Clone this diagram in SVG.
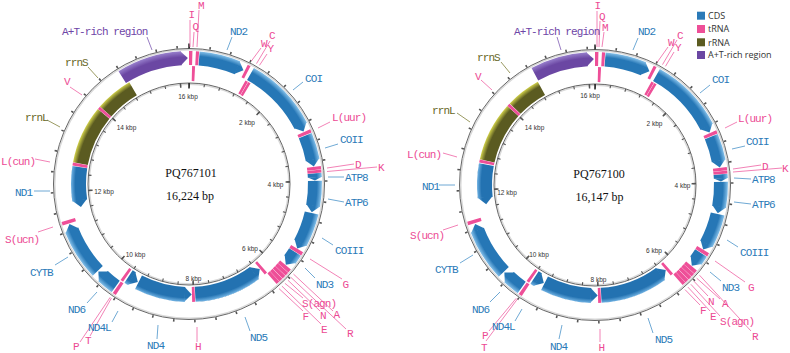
<svg xmlns="http://www.w3.org/2000/svg" xmlns:xlink="http://www.w3.org/1999/xlink" width="790" height="353" viewBox="0 0 790 353">
<style>
.lab{font-family:"Liberation Mono","DejaVu Sans Mono",monospace;font-size:11px;letter-spacing:-0.9px}
.b{fill:#2a7ab8}.k{fill:#ec4a94}.o{fill:#67671f}.u{fill:#6e45a6}
.ln{fill:none;stroke-width:0.8}
.lb{stroke:#4a93c9}.lk{stroke:#ef62a3}.lo{stroke:#80803a}.lu{stroke:#7d5bb3}
.P{fill:none;stroke-width:14}
.M{fill:none;stroke-width:15}
.cds{stroke:url(#gC)}.cdsF{fill:url(#gC)}
.rr{stroke:url(#gR)}
.at{stroke:url(#gA)}.atF{fill:url(#gA)}
.t{stroke:#ee4f98}
.tk{fill:none;stroke:#555}
.ring{fill:none;stroke:#666;stroke-width:1}
.sh{fill:none;stroke:#d9d9d9;stroke-width:1.4}
.kb{font-family:"Liberation Sans",Arial,sans-serif;font-size:6.5px;fill:#333;text-anchor:middle}
.ctr{font-family:"Liberation Serif","Times New Roman",serif;font-size:12px;fill:#111;text-anchor:middle}
.leg{font-family:"Open Sans","Liberation Sans",sans-serif;font-size:9px;fill:#333}
</style>
<defs>
<radialGradient id="gC" gradientUnits="userSpaceOnUse" cx="0" cy="0" r="133">
<stop offset="0" stop-color="#2372b1"/><stop offset="0.855" stop-color="#2372b1"/><stop offset="0.887" stop-color="#6fb1e2"/><stop offset="0.889" stop-color="#2677b6"/><stop offset="0.962" stop-color="#2677b6"/><stop offset="1" stop-color="#86c1ea"/>
</radialGradient>
<radialGradient id="gR" gradientUnits="userSpaceOnUse" cx="0" cy="0" r="133">
<stop offset="0" stop-color="#5b5b21"/><stop offset="0.85" stop-color="#5b5b21"/><stop offset="0.887" stop-color="#cfcf4a"/><stop offset="1" stop-color="#cfcf4a"/>
</radialGradient>
<radialGradient id="gA" gradientUnits="userSpaceOnUse" cx="0" cy="0" r="133">
<stop offset="0" stop-color="#6b47a3"/><stop offset="0.955" stop-color="#6b47a3"/><stop offset="1" stop-color="#9880cc"/>
</radialGradient>
<polygon id="tp" points="-7.66,-132.78 0,-126 -6.85,-118.8"/>
<polygon id="tps" points="-3.48,-132.95 0,-126 -3.12,-118.96"/>
<polygon id="tm" points="7.82,-117.74 0,-110.5 6.83,-102.77"/>
</defs>
<rect width="790" height="353" fill="#fff"/>

<!-- ================= LEFT MAP ================= -->
<g id="map-PQ767101" transform="translate(189,184)">
<circle class="sh" r="134.2"/>
<circle class="ring" r="135.5"/>
<circle class="tk" r="137.2" stroke-width="2.6" pathLength="16224" stroke-dasharray="30 370" stroke-dashoffset="15" transform="rotate(-90)"/>
<circle class="sh" r="99.8"/>
<circle class="ring" r="101" stroke="#555"/>
<circle class="tk" r="99.4" stroke-width="3" pathLength="16224" stroke-dasharray="28 372" stroke-dashoffset="14" transform="rotate(-90)"/>
<circle class="tk" r="98.8" stroke-width="4.4" pathLength="16224" stroke-dasharray="40 1960" stroke-dashoffset="20" transform="rotate(-90)"/>
<line x1="0" y1="-95.5" x2="0" y2="-101" stroke="#222" stroke-width="1.5"/>
<line x1="0" y1="-135.5" x2="0" y2="-140.5" stroke="#222" stroke-width="1.5"/>

<g id="L-ND2"><circle class="P cds" r="126" pathLength="360" stroke-dasharray="18 360" transform="rotate(-85.4)"/><use href="#tp" class="cdsF" transform="rotate(25.6)"/></g>
<g id="L-COI"><circle class="P cds" r="126" pathLength="360" stroke-dasharray="33.2 360" transform="rotate(-60.8)"/><use href="#tp" class="cdsF" transform="rotate(65.4)"/></g>
<g id="L-COII"><circle class="P cds" r="126" pathLength="360" stroke-dasharray="11.6 360" transform="rotate(-22.6)"/><use href="#tp" class="cdsF" transform="rotate(82)"/></g>
<g id="L-ATP8"><circle class="P cds" r="126" pathLength="360" stroke-dasharray="1.8 360" transform="rotate(-4.8)"/><use href="#tps" class="cdsF" transform="rotate(88.4)"/></g>
<g id="L-ATP6"><circle class="P cds" r="126" pathLength="360" stroke-dasharray="11.4 360" transform="rotate(-1.4)"/><use href="#tp" class="cdsF" transform="rotate(103)"/></g>
<g id="L-COIII"><circle class="P cds" r="126" pathLength="360" stroke-dasharray="14.5 360" transform="rotate(13.3)"/><use href="#tp" class="cdsF" transform="rotate(120.8)"/></g>
<g id="L-ND3"><circle class="P cds" r="126" pathLength="360" stroke-dasharray="4.1 360" transform="rotate(32.7)"/><use href="#tp" class="cdsF" transform="rotate(129.8)"/></g>
<g id="L-ND6"><circle class="P cds" r="126" pathLength="360" stroke-dasharray="7.4 360" transform="rotate(125.6)"/><use href="#tp" class="cdsF" transform="rotate(226)"/></g>
<g id="L-CYTB"><circle class="P cds" r="126" pathLength="360" stroke-dasharray="22.1 360" transform="rotate(136.4)"/><use href="#tp" class="cdsF" transform="rotate(251.5)"/></g>
<g id="L-ATrich"><circle class="P at" r="126" pathLength="360" stroke-dasharray="28.5 360" transform="rotate(238)"/><use href="#tp" class="atF" transform="rotate(359.5)"/></g>
<g id="L-ND5"><circle class="M cds" r="110.5" pathLength="360" stroke-dasharray="33.1 360" transform="rotate(53.7)"/><use href="#tm" class="cdsF" transform="rotate(140.2)"/></g>
<g id="L-ND4"><circle class="M cds" r="110.5" pathLength="360" stroke-dasharray="25.1 360" transform="rotate(92.1)"/><use href="#tm" class="cdsF" transform="rotate(178.6)"/></g>
<g id="L-ND4L"><circle class="M cds" r="110.5" pathLength="360" stroke-dasharray="2.1 360" transform="rotate(121.1)"/><use href="#tm" class="cdsF" transform="rotate(207.6)"/></g>
<g id="L-ND1"><circle class="M cds" r="110.5" pathLength="360" stroke-dasharray="17.3 360" transform="rotate(171.5)"/><use href="#tm" class="cdsF" transform="rotate(258)"/></g>
<g id="L-rrnL"><circle class="M rr" r="110.5" pathLength="360" stroke-dasharray="28.8 360" transform="rotate(190.6)"/></g>
<g id="L-rrnS"><circle class="M rr" r="110.5" pathLength="360" stroke-dasharray="18.6 360" transform="rotate(221)"/></g>
<g id="L-tRNAs">
<circle id="L-trnI" class="P t" r="126" pathLength="360" stroke-dasharray="1.5 360" transform="rotate(-90)"/>
<circle id="L-trnM" class="P t" r="126" pathLength="360" stroke-dasharray="1.4 360" transform="rotate(-87)"/>
<circle id="L-trnW" class="P t" r="126" pathLength="360" stroke-dasharray="1.4 360" transform="rotate(-63.8)"/>
<circle id="L-trnLuur" class="P t" r="126" pathLength="360" stroke-dasharray="1.5 360" transform="rotate(-24.3)"/>
<circle id="L-trnK" class="P t" r="126" pathLength="360" stroke-dasharray="1.4 360" transform="rotate(-7.8)"/>
<circle id="L-trnD" class="P t" r="126" pathLength="360" stroke-dasharray="1.4 360" transform="rotate(-6.3)"/>
<circle id="L-trnG" class="P t" r="126" pathLength="360" stroke-dasharray="1.6 360" transform="rotate(30.9)"/>
<circle id="L-trnA" class="P t" r="126" pathLength="360" stroke-dasharray="1.7 360" transform="rotate(40)"/>
<circle id="L-trnR" class="P t" r="126" pathLength="360" stroke-dasharray="1.7 360" transform="rotate(41.8)"/>
<circle id="L-trnN" class="P t" r="126" pathLength="360" stroke-dasharray="1.7 360" transform="rotate(43.6)"/>
<circle id="L-trnSagn" class="P t" r="126" pathLength="360" stroke-dasharray="1.7 360" transform="rotate(45.4)"/>
<circle id="L-trnE" class="P t" r="126" pathLength="360" stroke-dasharray="1.6 360" transform="rotate(47.2)"/>
<circle id="L-trnT" class="P t" r="126" pathLength="360" stroke-dasharray="1.6 360" transform="rotate(123.4)"/>
<circle id="L-trnSucn" class="P t" r="126" pathLength="360" stroke-dasharray="1.6 360" transform="rotate(161.8)"/>
<circle id="L-trnQ" class="M t" r="110.5" pathLength="360" stroke-dasharray="1.5 360" transform="rotate(-88.5)"/>
<circle id="L-trnC" class="M t" r="110.5" pathLength="360" stroke-dasharray="1.4 360" transform="rotate(-61.4)"/>
<circle id="L-trnY" class="M t" r="110.5" pathLength="360" stroke-dasharray="1.4 360" transform="rotate(-59.9)"/>
<circle id="L-trnF" class="M t" r="110.5" pathLength="360" stroke-dasharray="1.5 360" transform="rotate(48.6)"/>
<circle id="L-trnH" class="M t" r="110.5" pathLength="360" stroke-dasharray="1.5 360" transform="rotate(87)"/>
<circle id="L-trnP" class="M t" r="110.5" pathLength="360" stroke-dasharray="1.5 360" transform="rotate(124)"/>
<circle id="L-trnLcun" class="M t" r="110.5" pathLength="360" stroke-dasharray="1.5 360" transform="rotate(189)"/>
<circle id="L-trnV" class="M t" r="110.5" pathLength="360" stroke-dasharray="1.5 360" transform="rotate(219.5)"/>
</g>
</g>

<g id="L-center">
<text class="ctr" x="191" y="177">PQ767101</text>
<text class="ctr" x="190" y="200">16,224 bp</text>
</g>
<g id="L-scale">
<text class="kb" x="188" y="99.3">16 kbp</text>
<text class="kb" x="247" y="125.3">2 kbp</text>
<text class="kb" x="275.5" y="187.3">4 kbp</text>
<text class="kb" x="250" y="251.3">6 kbp</text>
<text class="kb" x="193.5" y="281.3">8 kbp</text>
<text class="kb" x="135.5" y="257.3">10 kbp</text>
<text class="kb" x="104" y="194.3">12 kbp</text>
<text class="kb" x="126.5" y="130.3">14 kbp</text>
</g>

<g id="L-leaders">
<line class="ln lu" x1="152" y1="50" x2="147" y2="37"/>
<line class="ln lk" x1="190" y1="47" x2="190" y2="20"/>
<line class="ln lk" x1="197" y1="47" x2="199" y2="10"/>
<line class="ln lk" x1="193" y1="47" x2="194" y2="32"/>
<line class="ln lb" x1="227" y1="50" x2="232" y2="37"/>
<line class="ln lk" x1="251.4" y1="61" x2="261" y2="48"/>
<line class="ln lk" x1="256.5" y1="63.6" x2="270" y2="41"/>
<line class="ln lk" x1="259.5" y1="65.3" x2="267" y2="54"/>
<line class="ln lb" x1="293" y1="90" x2="303" y2="82"/>
<line class="ln lk" x1="318" y1="128" x2="330" y2="122"/>
<line class="ln lb" x1="325" y1="148" x2="338" y2="144"/>
<line class="ln lk" x1="327" y1="168" x2="354" y2="164"/>
<line class="ln lk" x1="327" y1="171.5" x2="377" y2="167"/>
<line class="ln lb" x1="328" y1="177" x2="344" y2="177"/>
<line class="ln lb" x1="328" y1="199" x2="344" y2="202"/>
<line class="ln lb" x1="322" y1="238" x2="333" y2="245"/>
<line class="ln lk" x1="310" y1="259" x2="342" y2="279"/>
<line class="ln lb" x1="305" y1="268" x2="315" y2="278"/>
<line class="ln lk" x1="293.5" y1="274.1" x2="333" y2="311"/>
<line class="ln lk" x1="290.7" y1="277.2" x2="346" y2="329"/>
<line class="ln lk" x1="287.9" y1="280.2" x2="320" y2="311"/>
<line class="ln lk" x1="284.9" y1="283.3" x2="303" y2="298"/>
<line class="ln lk" x1="281.9" y1="286.1" x2="321" y2="324"/>
<line class="ln lk" x1="279" y1="288.6" x2="303" y2="311"/>
<line class="ln lb" x1="245" y1="317" x2="250" y2="331"/>
<line class="ln lk" x1="197" y1="327" x2="197" y2="342"/>
<line class="ln lb" x1="158" y1="325" x2="157" y2="339"/>
<line class="ln lb" x1="118" y1="311" x2="112" y2="322"/>
<line class="ln lk" x1="111.4" y1="298.1" x2="90" y2="336"/>
<line class="ln lk" x1="110.2" y1="297.3" x2="80" y2="342"/>
<line class="ln lb" x1="97" y1="292" x2="87" y2="303"/>
<line class="ln lb" x1="68" y1="257" x2="55" y2="265"/>
<line class="ln lk" x1="53" y1="227" x2="38" y2="232"/>
<line class="ln lb" x1="50" y1="191" x2="34" y2="191"/>
<line class="ln lk" x1="50" y1="162" x2="35" y2="159"/>
<line class="ln lo" x1="60" y1="127" x2="47" y2="120"/>
<line class="ln lk" x1="82" y1="95" x2="70" y2="87"/>
<line class="ln lo" x1="98" y1="78" x2="88" y2="67"/>
</g>

<g id="L-labels">
<text class="lab u" x="62" y="35">A+T-rich region</text>
<text class="lab k" x="188.5" y="18">I</text>
<text class="lab k" x="198" y="9">M</text>
<text class="lab k" x="192.5" y="30">Q</text>
<text class="lab b" x="230" y="35">ND2</text>
<text class="lab k" x="269" y="39">C</text>
<text class="lab k" x="261" y="47">W</text>
<text class="lab k" x="267.5" y="52">Y</text>
<text class="lab b" x="305" y="82">COI</text>
<text class="lab k" x="332" y="121">L(uur)</text>
<text class="lab b" x="340" y="143">COII</text>
<text class="lab k" x="355" y="168">D</text>
<text class="lab k" x="378" y="171">K</text>
<text class="lab b" x="345" y="181">ATP8</text>
<text class="lab b" x="345" y="206">ATP6</text>
<text class="lab b" x="335" y="254">COIII</text>
<text class="lab k" x="342.5" y="288">G</text>
<text class="lab b" x="316" y="288">ND3</text>
<text class="lab k" x="302" y="307">S(agn)</text>
<text class="lab k" x="302.5" y="320">F</text>
<text class="lab k" x="320" y="319">N</text>
<text class="lab k" x="333.5" y="318">A</text>
<text class="lab k" x="321" y="333">E</text>
<text class="lab k" x="347" y="337">R</text>
<text class="lab b" x="250" y="341">ND5</text>
<text class="lab k" x="195" y="350">H</text>
<text class="lab b" x="147" y="349">ND4</text>
<text class="lab b" x="88" y="331">ND4L</text>
<text class="lab k" x="85" y="344">T</text>
<text class="lab k" x="73" y="350">P</text>
<text class="lab b" x="68" y="313">ND6</text>
<text class="lab b" x="30" y="276">CYTB</text>
<text class="lab k" x="5" y="243">S(ucn)</text>
<text class="lab b" x="15" y="196">ND1</text>
<text class="lab k" x="1" y="165">L(cun)</text>
<text class="lab o" x="25" y="121">rrnL</text>
<text class="lab k" x="64" y="85">V</text>
<text class="lab o" x="65" y="66">rrnS</text>
</g>

<!-- ================= RIGHT MAP ================= -->
<g id="map-PQ767100" transform="translate(595,185)">
<circle class="sh" r="134.2"/>
<circle class="ring" r="135.5"/>
<circle class="tk" r="137.2" stroke-width="2.6" pathLength="16147" stroke-dasharray="30 370" stroke-dashoffset="15" transform="rotate(-90)"/>
<circle class="sh" r="99.8"/>
<circle class="ring" r="101" stroke="#555"/>
<circle class="tk" r="99.4" stroke-width="3" pathLength="16147" stroke-dasharray="28 372" stroke-dashoffset="14" transform="rotate(-90)"/>
<circle class="tk" r="98.8" stroke-width="4.4" pathLength="16147" stroke-dasharray="40 1960" stroke-dashoffset="20" transform="rotate(-90)"/>
<line x1="0" y1="-95.5" x2="0" y2="-101" stroke="#222" stroke-width="1.5"/>
<line x1="0" y1="-135.5" x2="0" y2="-140.5" stroke="#222" stroke-width="1.5"/>

<g id="R-ND2"><circle class="P cds" r="126" pathLength="360" stroke-dasharray="18 360" transform="rotate(-85.4)"/><use href="#tp" class="cdsF" transform="rotate(25.6)"/></g>
<g id="R-COI"><circle class="P cds" r="126" pathLength="360" stroke-dasharray="33.2 360" transform="rotate(-60.8)"/><use href="#tp" class="cdsF" transform="rotate(65.4)"/></g>
<g id="R-COII"><circle class="P cds" r="126" pathLength="360" stroke-dasharray="11.6 360" transform="rotate(-22.6)"/><use href="#tp" class="cdsF" transform="rotate(82)"/></g>
<g id="R-ATP8"><circle class="P cds" r="126" pathLength="360" stroke-dasharray="1.8 360" transform="rotate(-4.8)"/><use href="#tps" class="cdsF" transform="rotate(88.4)"/></g>
<g id="R-ATP6"><circle class="P cds" r="126" pathLength="360" stroke-dasharray="11.4 360" transform="rotate(-1.4)"/><use href="#tp" class="cdsF" transform="rotate(103)"/></g>
<g id="R-COIII"><circle class="P cds" r="126" pathLength="360" stroke-dasharray="14.5 360" transform="rotate(13.3)"/><use href="#tp" class="cdsF" transform="rotate(120.8)"/></g>
<g id="R-ND3"><circle class="P cds" r="126" pathLength="360" stroke-dasharray="4.1 360" transform="rotate(32.7)"/><use href="#tp" class="cdsF" transform="rotate(129.8)"/></g>
<g id="R-ND6"><circle class="P cds" r="126" pathLength="360" stroke-dasharray="7.4 360" transform="rotate(125.6)"/><use href="#tp" class="cdsF" transform="rotate(226)"/></g>
<g id="R-CYTB"><circle class="P cds" r="126" pathLength="360" stroke-dasharray="22.6 360" transform="rotate(136.4)"/><use href="#tp" class="cdsF" transform="rotate(252)"/></g>
<g id="R-ATrich"><circle class="P at" r="126" pathLength="360" stroke-dasharray="25 360" transform="rotate(241.5)"/><use href="#tp" class="atF" transform="rotate(359.5)"/></g>
<g id="R-ND5"><circle class="M cds" r="110.5" pathLength="360" stroke-dasharray="33.1 360" transform="rotate(53.7)"/><use href="#tm" class="cdsF" transform="rotate(140.2)"/></g>
<g id="R-ND4"><circle class="M cds" r="110.5" pathLength="360" stroke-dasharray="25.1 360" transform="rotate(92.1)"/><use href="#tm" class="cdsF" transform="rotate(178.6)"/></g>
<g id="R-ND4L"><circle class="M cds" r="110.5" pathLength="360" stroke-dasharray="2.1 360" transform="rotate(121.1)"/><use href="#tm" class="cdsF" transform="rotate(207.6)"/></g>
<g id="R-ND1"><circle class="M cds" r="110.5" pathLength="360" stroke-dasharray="17.1 360" transform="rotate(173.5)"/><use href="#tm" class="cdsF" transform="rotate(260)"/></g>
<g id="R-rrnL"><circle class="M rr" r="110.5" pathLength="360" stroke-dasharray="29.4 360" transform="rotate(192.6)"/></g>
<g id="R-rrnS"><circle class="M rr" r="110.5" pathLength="360" stroke-dasharray="17.3 360" transform="rotate(223.7)"/></g>
<g id="R-tRNAs">
<circle id="R-trnI" class="P t" r="126" pathLength="360" stroke-dasharray="1.5 360" transform="rotate(-90)"/>
<circle id="R-trnM" class="P t" r="126" pathLength="360" stroke-dasharray="1.4 360" transform="rotate(-87)"/>
<circle id="R-trnW" class="P t" r="126" pathLength="360" stroke-dasharray="1.4 360" transform="rotate(-63.8)"/>
<circle id="R-trnLuur" class="P t" r="126" pathLength="360" stroke-dasharray="1.5 360" transform="rotate(-24.3)"/>
<circle id="R-trnK" class="P t" r="126" pathLength="360" stroke-dasharray="1.4 360" transform="rotate(-7.8)"/>
<circle id="R-trnD" class="P t" r="126" pathLength="360" stroke-dasharray="1.4 360" transform="rotate(-6.3)"/>
<circle id="R-trnG" class="P t" r="126" pathLength="360" stroke-dasharray="1.6 360" transform="rotate(30.9)"/>
<circle id="R-trnA" class="P t" r="126" pathLength="360" stroke-dasharray="1.7 360" transform="rotate(40)"/>
<circle id="R-trnR" class="P t" r="126" pathLength="360" stroke-dasharray="1.7 360" transform="rotate(41.8)"/>
<circle id="R-trnN" class="P t" r="126" pathLength="360" stroke-dasharray="1.7 360" transform="rotate(43.6)"/>
<circle id="R-trnSagn" class="P t" r="126" pathLength="360" stroke-dasharray="1.7 360" transform="rotate(45.4)"/>
<circle id="R-trnE" class="P t" r="126" pathLength="360" stroke-dasharray="1.6 360" transform="rotate(47.2)"/>
<circle id="R-trnT" class="P t" r="126" pathLength="360" stroke-dasharray="1.6 360" transform="rotate(123.4)"/>
<circle id="R-trnSucn" class="P t" r="126" pathLength="360" stroke-dasharray="1.6 360" transform="rotate(162.4)"/>
<circle id="R-trnQ" class="M t" r="110.5" pathLength="360" stroke-dasharray="1.5 360" transform="rotate(-88.5)"/>
<circle id="R-trnC" class="M t" r="110.5" pathLength="360" stroke-dasharray="1.4 360" transform="rotate(-61.4)"/>
<circle id="R-trnY" class="M t" r="110.5" pathLength="360" stroke-dasharray="1.4 360" transform="rotate(-59.9)"/>
<circle id="R-trnF" class="M t" r="110.5" pathLength="360" stroke-dasharray="1.5 360" transform="rotate(48.6)"/>
<circle id="R-trnH" class="M t" r="110.5" pathLength="360" stroke-dasharray="1.5 360" transform="rotate(87)"/>
<circle id="R-trnP" class="M t" r="110.5" pathLength="360" stroke-dasharray="1.5 360" transform="rotate(124)"/>
<circle id="R-trnLcun" class="M t" r="110.5" pathLength="360" stroke-dasharray="1.5 360" transform="rotate(191)"/>
<circle id="R-trnV" class="M t" r="110.5" pathLength="360" stroke-dasharray="1.5 360" transform="rotate(222.1)"/>
</g>
</g>

<g id="R-center">
<text class="ctr" x="599" y="178">PQ767100</text>
<text class="ctr" x="599.5" y="201">16,147 bp</text>
</g>
<g id="R-scale">
<text class="kb" x="590" y="98.3">16 kbp</text>
<text class="kb" x="654.5" y="126.3">2 kbp</text>
<text class="kb" x="682.5" y="188.3">4 kbp</text>
<text class="kb" x="654" y="252.8">6 kbp</text>
<text class="kb" x="598.5" y="281.8">8 kbp</text>
<text class="kb" x="539" y="257.3">10 kbp</text>
<text class="kb" x="507" y="194.8">12 kbp</text>
<text class="kb" x="534.5" y="129.8">14 kbp</text>
</g>

<g id="R-leaders">
<line class="ln lu" x1="561" y1="50" x2="557" y2="37"/>
<line class="ln lk" x1="597" y1="47" x2="597" y2="11"/>
<line class="ln lk" x1="599" y1="47" x2="600" y2="21"/>
<line class="ln lk" x1="602" y1="47" x2="604" y2="32"/>
<line class="ln lb" x1="633" y1="50" x2="638" y2="38"/>
<line class="ln lk" x1="657.4" y1="62" x2="668" y2="47"/>
<line class="ln lk" x1="662.5" y1="64.6" x2="677" y2="40"/>
<line class="ln lk" x1="665.5" y1="66.3" x2="674" y2="52"/>
<line class="ln lb" x1="700" y1="93" x2="710" y2="85"/>
<line class="ln lk" x1="725" y1="128" x2="737" y2="122"/>
<line class="ln lb" x1="732" y1="149" x2="745" y2="146"/>
<line class="ln lk" x1="733" y1="169" x2="761" y2="165"/>
<line class="ln lk" x1="733" y1="172" x2="782" y2="168"/>
<line class="ln lb" x1="734" y1="178" x2="751" y2="179"/>
<line class="ln lb" x1="734" y1="202" x2="751" y2="204"/>
<line class="ln lb" x1="727" y1="240" x2="738" y2="247"/>
<line class="ln lk" x1="715" y1="261" x2="745" y2="282"/>
<line class="ln lb" x1="710" y1="272" x2="721" y2="281"/>
<line class="ln lk" x1="699.5" y1="275.2" x2="751" y2="331"/>
<line class="ln lk" x1="696.7" y1="278.2" x2="720" y2="299"/>
<line class="ln lk" x1="693.9" y1="281.2" x2="708" y2="296"/>
<line class="ln lk" x1="690.9" y1="284.3" x2="720" y2="316"/>
<line class="ln lk" x1="687.9" y1="287.1" x2="710" y2="311"/>
<line class="ln lk" x1="685" y1="289.6" x2="700" y2="305"/>
<line class="ln lb" x1="648" y1="318" x2="653" y2="333"/>
<line class="ln lk" x1="600" y1="329" x2="600" y2="342"/>
<line class="ln lb" x1="562" y1="325" x2="559" y2="339"/>
<line class="ln lb" x1="522" y1="309" x2="515" y2="321"/>
<line class="ln lk" x1="517.4" y1="299.1" x2="486" y2="341"/>
<line class="ln lk" x1="516.2" y1="298.3" x2="489" y2="331"/>
<line class="ln lb" x1="500" y1="292" x2="490" y2="302"/>
<line class="ln lb" x1="473" y1="255" x2="460" y2="263"/>
<line class="ln lk" x1="458" y1="225" x2="443" y2="230"/>
<line class="ln lb" x1="455" y1="185" x2="439" y2="185"/>
<line class="ln lk" x1="457" y1="157" x2="443" y2="153"/>
<line class="ln lo" x1="470" y1="122" x2="457" y2="113"/>
<line class="ln lk" x1="492" y1="90" x2="481" y2="80"/>
<line class="ln lo" x1="510" y1="73" x2="501" y2="62"/>
</g>

<g id="R-labels">
<text class="lab u" x="514" y="35">A+T-rich region</text>
<text class="lab k" x="594.5" y="9">I</text>
<text class="lab k" x="599" y="20">Q</text>
<text class="lab k" x="602" y="30.5">M</text>
<text class="lab b" x="638" y="35">ND2</text>
<text class="lab k" x="677" y="39">C</text>
<text class="lab k" x="668" y="46">W</text>
<text class="lab k" x="675" y="51">Y</text>
<text class="lab b" x="712" y="83">COI</text>
<text class="lab k" x="738" y="122">L(uur)</text>
<text class="lab b" x="746" y="145">COII</text>
<text class="lab k" x="762" y="170">D</text>
<text class="lab k" x="782" y="172">K</text>
<text class="lab b" x="752" y="183">ATP8</text>
<text class="lab b" x="752" y="208">ATP6</text>
<text class="lab b" x="740" y="256">COIII</text>
<text class="lab k" x="748" y="291">G</text>
<text class="lab b" x="722" y="291">ND3</text>
<text class="lab k" x="722" y="307">A</text>
<text class="lab k" x="708" y="305">N</text>
<text class="lab k" x="700" y="314">F</text>
<text class="lab k" x="710" y="320">E</text>
<text class="lab k" x="720" y="325">S(agn)</text>
<text class="lab k" x="752" y="340">R</text>
<text class="lab b" x="655" y="343">ND5</text>
<text class="lab k" x="598.5" y="350.5">H</text>
<text class="lab b" x="550" y="349.5">ND4</text>
<text class="lab b" x="492" y="330">ND4L</text>
<text class="lab k" x="482" y="339">P</text>
<text class="lab k" x="481" y="350.5">T</text>
<text class="lab b" x="472" y="313">ND6</text>
<text class="lab b" x="435" y="273">CYTB</text>
<text class="lab k" x="410" y="239">S(ucn)</text>
<text class="lab b" x="422" y="190">ND1</text>
<text class="lab k" x="407" y="158">L(cun)</text>
<text class="lab o" x="432" y="114">rrnL</text>
<text class="lab k" x="475" y="80">V</text>
<text class="lab o" x="477" y="61">rrnS</text>
</g>

<g id="legend">
<rect x="697" y="11.7" width="8" height="8" fill="#2a7ab8"/>
<rect x="697" y="25" width="8" height="8" fill="#ee4f98"/>
<rect x="697" y="38.3" width="8" height="8" fill="#5b5b21"/>
<rect x="697" y="51" width="8" height="8" fill="#6b47a3"/>
<text class="leg" x="708" y="19">CDS</text>
<text class="leg" x="708" y="32.3">tRNA</text>
<text class="leg" x="708" y="45.6">rRNA</text>
<text class="leg" x="708" y="58.3">A+T-rich region</text>
</g>
</svg>
